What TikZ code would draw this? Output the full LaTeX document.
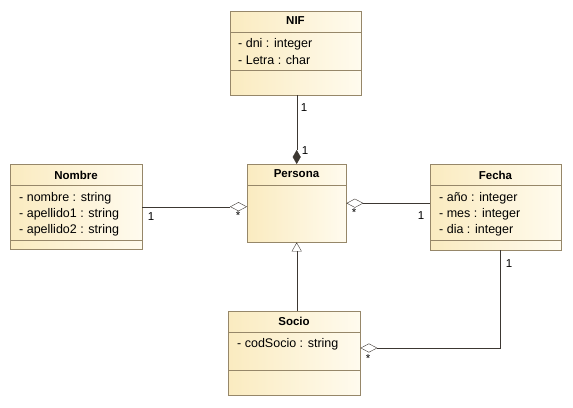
\documentclass[tikz,border=0pt]{standalone}
\usepackage{fontspec}
\setmainfont{Liberation Sans}
\usepackage{xcolor}
\usepackage{tikz}
\usetikzlibrary{positioning, arrows.meta, calc}
\definecolor{clsline}{RGB}{150,135,105}
\definecolor{clsdark}{RGB}{250,235,192}
\definecolor{clslight}{RGB}{255,251,238}
\definecolor{assoc}{RGB}{60,55,50}

\begin{document}
\begin{tikzpicture}[x=1pt, y=-1pt, every node/.style={inner sep=0pt},
  classbox/.style={draw=clsline, left color=clsdark, right color=clslight,
    anchor=north west, rectangle},
  ctitle/.style={font=\fontsize{11.5}{13}\selectfont\bfseries},
  attr/.style={font=\fontsize{12.5}{14}\selectfont, anchor=west},
  mult/.style={font=\fontsize{11.5}{13}\selectfont},
  sep/.style={clsline},
  aggr/.style={assoc, {Diamond[open, length=17pt, width=9pt]}-},
  comp/.style={assoc, {Diamond[length=14pt, width=8pt]}-},
  gen/.style={assoc, {Triangle[open, length=9pt, width=10pt]}-}]
\useasboundingbox (0,0) rectangle (573,407);

% NIF
\node[classbox, minimum width=131pt, minimum height=84pt] (nif) at (230,11) {};
\node[ctitle] (nift) at (295.5,21) {NIF};
\draw[sep] (230,32) -- (361,32);
\draw[sep] (230,70) -- (361,70);
\node[attr] (nifa) at (238,44) {- dni : integer};
\node[attr] (nifb) at (238,60) {- Letra : char};

% Persona
\node[classbox, minimum width=99pt, minimum height=78pt] (persona) at (247,164) {};
\node[ctitle] (persont) at (296.5,174) {Persona};
\draw[sep] (247,185) -- (346,185);

% Nombre
\node[classbox, minimum width=132pt, minimum height=85pt] (nombre) at (10,164) {};
\node[ctitle] (nombret) at (76,175) {Nombre};
\draw[sep] (10,185) -- (142,185);
\draw[sep] (10,240) -- (142,240);
\node[attr] (nombrea) at (19,198) {- nombre : string};
\node[attr] (nombreb) at (19,214) {- apellido1 : string};
\node[attr] (nombrec) at (19,230) {- apellido2 : string};

% Fecha
\node[classbox, minimum width=131pt, minimum height=86pt] (fecha) at (430,164) {};
\node[ctitle] (fechat) at (495.5,175) {Fecha};
\draw[sep] (430,185) -- (561,185);
\draw[sep] (430,240) -- (561,240);
\node[attr] (fechaa) at (439,198) {- año : integer};
\node[attr] (fechab) at (439,214) {- mes : integer};
\node[attr] (fechac) at (439,230) {- dia : integer};

% Socio
\node[classbox, minimum width=132pt, minimum height=84pt] (socio) at (228,311) {};
\node[ctitle] (sociot) at (294,321) {Socio};
\draw[sep] (228,332) -- (360,332);
\draw[sep] (228,370) -- (360,370);
\node[attr] (socioa) at (237,344) {- codSocio : string};

% relaciones
\draw[comp] (persona.north) -- (persona.north |- nif.south);
\draw[aggr] (nombre.east -| persona.west) -- (nombre.east);
\draw[aggr] (persona.east) -- (persona.east -| fecha.west);
\draw[gen] (persona.south) -- (persona.south |- socio.north);
\coordinate (fbend) at (500,348);
\draw[aggr] (fbend -| socio.east) -- (fbend) -- (fbend |- fecha.south);

% multiplicidades
\node[mult] (m1) at (304,108) {1};
\node[mult] (m2) at (305,151) {1};
\node[mult] (m3) at (151,217) {1};
\node[mult] (m4) at (238,216) {*};
\node[mult] (m5) at (354,213) {*};
\node[mult] (m6) at (421,216) {1};
\node[mult] (m7) at (509,264) {1};
\node[mult] (m8) at (368,359) {*};
\end{tikzpicture}
\end{document}
